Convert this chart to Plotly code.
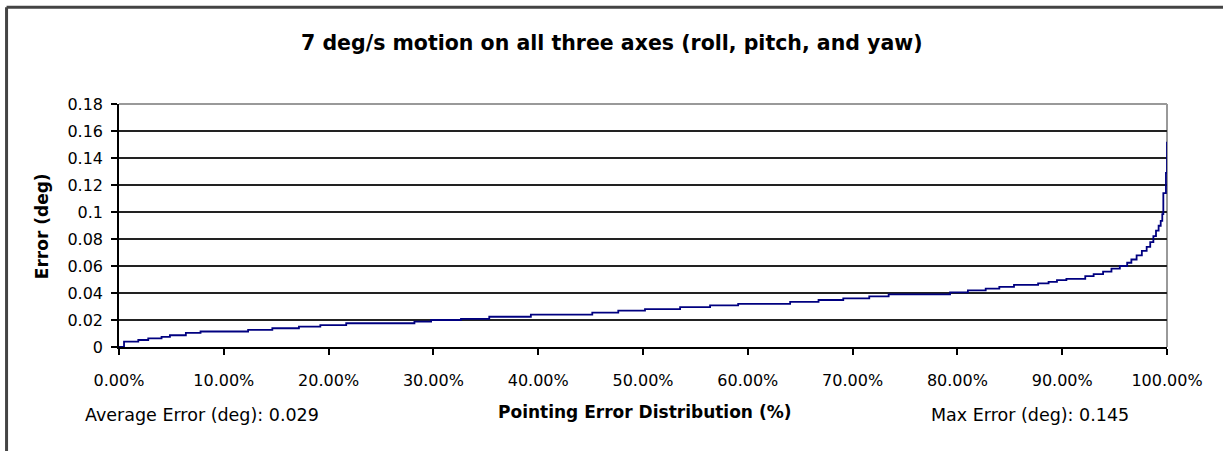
import plotly.graph_objects as go

# Pointing error distribution (%), start of each step
dist_pct = [0, 0.48, 1.84, 2.79, 4.06, 4.86, 6.38, 7.78, 12.32, 14.63, 17.17, 19.21,
            21.68, 28.19, 29.78, 32.63, 35.33, 39.3, 45.16, 47.64, 50.19, 53.54, 56.4,
            59.08, 64.04, 66.75, 69.11, 71.59, 73.44, 79.3, 81.0, 82.7, 84.0, 85.4,
            87.7, 88.7, 89.5, 90.4, 92.2, 93.0, 93.9, 94.7, 95.5, 96.2, 96.6, 97.1,
            97.6, 98.06, 98.4, 98.7, 98.95, 99.2, 99.4, 99.55, 99.65, 99.9, 100]
# Error (deg)
error_deg = [0, 0.0040, 0.0052, 0.0064, 0.0075, 0.0087, 0.0104, 0.0115, 0.0127, 0.0139,
             0.0151, 0.0162, 0.0176, 0.0188, 0.0200, 0.0209, 0.0224, 0.0240, 0.0255,
             0.0270, 0.0280, 0.0295, 0.0308, 0.0320, 0.0335, 0.0348, 0.0360, 0.0375,
             0.0390, 0.0405, 0.0420, 0.0433, 0.0445, 0.0460, 0.0471, 0.0483, 0.0495,
             0.0505, 0.0525, 0.0540, 0.0558, 0.0580, 0.0600, 0.0624, 0.0648, 0.0678,
             0.0712, 0.0741, 0.0777, 0.0822, 0.0862, 0.0898, 0.0935, 0.0985, 0.1140,
             0.1290, 0.1520]

x_tickvals = [0, 10, 20, 30, 40, 50, 60, 70, 80, 90, 100]
x_ticktext = ["0.00%", "10.00%", "20.00%", "30.00%", "40.00%", "50.00%", "60.00%",
              "70.00%", "80.00%", "90.00%", "100.00%"]
y_tickvals = [0, 0.02, 0.04, 0.06, 0.08, 0.10, 0.12, 0.14, 0.16, 0.18]
y_ticktext = ["0", "0.02", "0.04", "0.06", "0.08", "0.1", "0.12", "0.14", "0.16", "0.18"]

title_text = "7 deg/s motion on all three axes (roll, pitch, and yaw)"
x_title = "Pointing Error Distribution (%)"
y_title = "Error (deg)"
avg_text = "Average Error (deg): 0.029"
max_text = "Max Error (deg): 0.145"

W, H = 1223, 451
L, R, T, B = 119, 55.5, 103.5, 103.7
pw, ph = W - L - R, H - T - B

def px(x):
    return (x - L) / pw

def py(y):
    return (H - B - y) / ph

fig = go.Figure()
fig.add_trace(go.Scatter(x=dist_pct, y=error_deg, mode="lines", line_shape="hv",
                         line=dict(color="#000080", width=1.8), showlegend=False))

fnt = "DejaVu Sans, Arial, sans-serif"
fig.update_layout(
    width=W, height=H,
    margin=dict(l=L, r=R, t=T, b=B),
    paper_bgcolor="white", plot_bgcolor="white",
    xaxis=dict(range=[0, 100], tickvals=x_tickvals, ticktext=x_ticktext,
               showgrid=False, zeroline=False, showline=True, linecolor="black",
               linewidth=1.5, ticks="outside", ticklen=6, tickcolor="black",
               tickwidth=1.5, ticklabelstandoff=12,
               tickfont=dict(family=fnt, size=16, color="black")),
    yaxis=dict(range=[0, 0.18], tickvals=y_tickvals, ticktext=y_ticktext,
               showgrid=True, gridcolor="#222222", gridwidth=1.5, zeroline=False,
               showline=True, linecolor="black", linewidth=1.5, ticks="outside",
               ticklen=6, tickcolor="black", tickwidth=1.5, ticklabelstandoff=5,
               tickfont=dict(family=fnt, size=16, color="black")),
    shapes=[
        dict(type="line", xref="paper", yref="paper", x0=0, x1=1, y0=1, y1=1,
             line=dict(color="#999999", width=2)),
        dict(type="line", xref="paper", yref="paper", x0=1, x1=1, y0=0, y1=1,
             line=dict(color="#999999", width=2), layer="below"),
        dict(type="line", xref="paper", yref="paper", x0=px(6.5), x1=px(6.5),
             y0=py(H + 5), y1=py(6.5), line=dict(color="#444444", width=3)),
        dict(type="line", xref="paper", yref="paper", x0=px(6.5), x1=px(W + 5),
             y0=py(6.5), y1=py(6.5), line=dict(color="#444444", width=3)),
    ],
    annotations=[
        dict(text="<b>" + title_text + "</b>", xref="paper", yref="paper",
             x=px(612), y=py(42), xanchor="center", yanchor="middle", showarrow=False,
             font=dict(family=fnt, size=20.5, color="black")),
        dict(text="<b>" + x_title + "</b>", xref="paper", yref="paper",
             x=px(645), y=py(413), xanchor="center", yanchor="middle", showarrow=False,
             font=dict(family=fnt, size=17, color="black")),
        dict(text="<b>" + y_title + "</b>", xref="paper", yref="paper",
             x=px(42), y=py(226), xanchor="center", yanchor="middle", showarrow=False,
             textangle=-90, font=dict(family=fnt, size=17, color="black")),
        dict(text=avg_text, xref="paper", yref="paper", x=px(202), y=py(416),
             xanchor="center", yanchor="middle", showarrow=False,
             font=dict(family=fnt, size=17.5, color="black")),
        dict(text=max_text, xref="paper", yref="paper", x=px(1030), y=py(416),
             xanchor="center", yanchor="middle", showarrow=False,
             font=dict(family=fnt, size=17.5, color="black")),
    ],
)

fig.write_html("out.html", config={"displayModeBar": False},
               post_script="document.body.style.margin='0';")
